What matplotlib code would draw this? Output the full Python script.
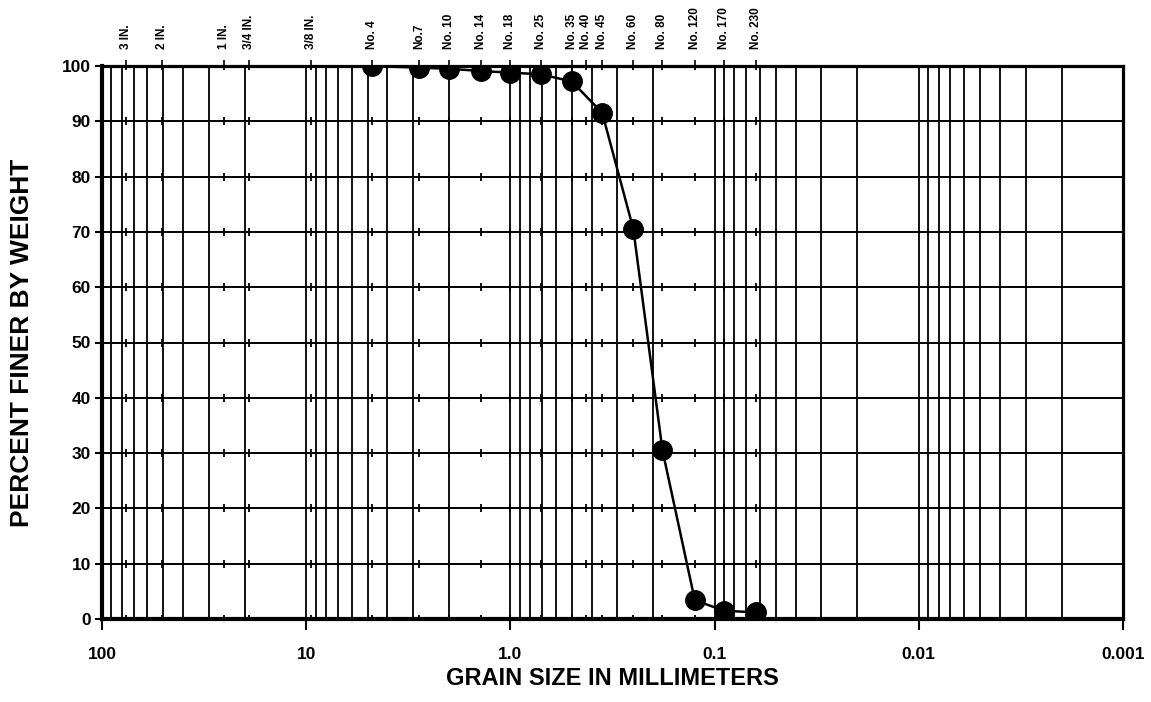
import matplotlib
matplotlib.use("Agg")
import matplotlib.pyplot as plt
from matplotlib.ticker import FixedLocator, NullLocator, LogLocator, NullFormatter

plt.rcParams['font.family'] = ['Liberation Sans', 'DejaVu Sans']
plt.rcParams['font.weight'] = 'bold'

# Sieve sizes (top axis)
sieve_labels = ["3 IN.", "2 IN.", "1 IN.", "3/4 IN.", "3/8 IN.", "No. 4", "No.7",
                "No. 10", "No. 14", "No. 18", "No. 25", "No. 35", "No. 40", "No. 45",
                "No. 60", "No. 80", "No. 120", "No. 170", "No. 230"]
sieve_mm = [76.2, 50.8, 25.4, 19.05, 9.525, 4.75, 2.80, 2.00, 1.40, 1.00, 0.710,
            0.500, 0.425, 0.355, 0.250, 0.180, 0.125, 0.090, 0.063]

# Measured gradation
grain_mm = [4.75, 2.80, 2.00, 1.40, 1.00, 0.710, 0.500, 0.355, 0.250, 0.180, 0.125, 0.090, 0.063]
percent_finer = [100.0, 99.7, 99.5, 99.1, 98.8, 98.5, 97.2, 91.5, 70.5, 30.5, 3.4, 1.5, 1.2]

# Axis ticks
x_ticks = [100, 10, 1, 0.1, 0.01, 0.001]
x_ticklabels = ["100", "10", "1.0", "0.1", "0.01", "0.001"]
y_ticks = [0, 10, 20, 30, 40, 50, 60, 70, 80, 90, 100]

W, H = 1151, 702
fig = plt.figure(figsize=(W / 100, H / 100), dpi=100)
ax = fig.add_axes([102 / W, 83 / H, 1021 / W, 553 / H])
ax.set_xscale('log')
ax.set_xlim(100, 0.001)
ax.set_ylim(0, 100)

ax.xaxis.set_major_locator(FixedLocator(x_ticks))
ax.set_xticklabels(x_ticklabels)
ax.xaxis.set_minor_locator(LogLocator(base=10, subs=range(2, 10), numticks=50))
ax.xaxis.set_minor_formatter(NullFormatter())
ax.set_yticks(y_ticks)

ax.grid(which='both', axis='x', color='black', lw=1.3)
ax.grid(which='major', axis='y', color='black', lw=1.4)
ax.set_axisbelow(True)

ax.tick_params(axis='x', which='major', direction='out', length=8, width=1.5,
               pad=12, labelsize=12.5)
ax.tick_params(axis='x', which='minor', length=0)
ax.tick_params(axis='y', which='major', direction='out', length=5, width=1.5,
               pad=3, labelsize=12.5)
for lab in ax.get_xticklabels() + ax.get_yticklabels():
    lab.set_fontweight('bold')

for side, lw in [('left', 3.0), ('bottom', 3.0), ('top', 2.3), ('right', 2.3)]:
    ax.spines[side].set_linewidth(lw)
    ax.spines[side].set_color('black')

# small sieve marks crossing each horizontal grid line
for yv in y_ticks:
    ax.plot(sieve_mm, [yv] * len(sieve_mm), linestyle='none', marker='|',
            markersize=6, markeredgewidth=1.3, color='black', zorder=2)

# data
ax.plot(grain_mm, percent_finer, '-o', color='black', lw=1.8, markersize=14,
        zorder=5, clip_on=True)

# top axis with sieve labels
ax2 = ax.twiny()
ax2.set_xscale('log')
ax2.set_xlim(100, 0.001)
ax2.xaxis.set_major_locator(FixedLocator(sieve_mm))
ax2.xaxis.set_minor_locator(NullLocator())
ax2.set_xticklabels(sieve_labels, rotation=90, fontsize=8.5, fontweight='bold')
ax2.tick_params(axis='x', direction='out', length=4, width=1.2, pad=8)
for s in ax2.spines.values():
    s.set_visible(False)

ax.set_xlabel("GRAIN SIZE IN MILLIMETERS", fontsize=17, fontweight='bold', labelpad=4)
ax.set_ylabel("PERCENT FINER BY WEIGHT", fontsize=19, fontweight='bold', labelpad=20)

fig.savefig("out.png", dpi=100)
